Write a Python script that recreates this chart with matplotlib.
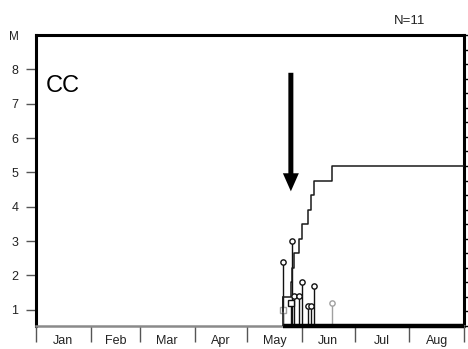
import numpy as np
import matplotlib
matplotlib.use("Agg")
import matplotlib.pyplot as plt
from matplotlib.patches import FancyArrowPatch

plt.rcParams['font.family'] = ['Liberation Sans', 'DejaVu Sans']

# ---- data ----
months = ["Jan", "Feb", "Mar", "Apr", "May", "Jun", "Jul", "Aug"]
month_starts = [0, 31, 59, 90, 120, 151, 181, 212, 243]
event_days = [140.0, 140.0, 144.7, 145.6, 146.7, 149.1, 151.0, 154.6, 156.3, 158.0, 167.9]
event_values = [2.39, 1.0, 1.2, 2.99, 1.41, 1.41, 1.81, 1.1, 1.1, 1.68, 1.21]
event_marker = ['o', 's', 's', 'o', 'o', 'o', 'o', 'o', 'o', 'o', 'o']
event_gray = [False, True, False, False, False, False, False, False, False, False, True]
arrow_day = 144.7
arrow_from, arrow_to = 7.9, 4.45
yticks_left = [1, 2, 3, 4, 5, 6, 7, 8]
n_label = "N=11"
panel_label = "CC"

fig = plt.figure(figsize=(4.68, 3.49), dpi=100)
ax = fig.add_axes([36/468, 23/349, 428/468, 291/349])
ymin, ymax = 0.53, 9.0
xmax = month_starts[-1]
ax.set_xlim(0, xmax)
ax.set_ylim(ymin, ymax)

# spines
for s in ['left', 'top', 'right']:
    ax.spines[s].set_linewidth(2.2)
    ax.spines[s].set_color('black')
ax.spines['bottom'].set_linewidth(1.8)
ax.spines['bottom'].set_color('#8a8a8a')

# left ticks
ax.set_yticks(yticks_left)
ax.set_yticklabels([str(v) for v in yticks_left])
ax.tick_params(axis='y', direction='out', length=7.2, width=1, color='#555555',
               pad=5.5, labelsize=9, labelcolor='#222222')
fig.text(14/468, 1 - 37/349, "M", ha='center', va='center', fontsize=8.5, color='#222222')

# x ticks: month boundaries, labels at mid-month
ax.set_xticks(month_starts)
ax.set_xticklabels([])
ax.tick_params(axis='x', which='major', direction='out', length=11.5, width=1, color='#555555')
mids = [(month_starts[i] + month_starts[i+1]) / 2 for i in range(len(months))]
ax.set_xticks(mids, minor=True)
ax.set_xticklabels(months, minor=True)
ax.tick_params(axis='x', which='minor', length=0, pad=6.5, labelsize=9, labelcolor='#222222')

# right axis: cumulative count
ax2 = ax.twinx()
ax2.set_ylim(0, 20)
ax2.set_yticks(range(0, 21))
ax2.set_yticklabels([])
ax2.tick_params(axis='y', direction='out', length=3, width=1, color='black')
for s in ['left', 'top', 'right', 'bottom']:
    ax2.spines[s].set_visible(False)
sd = np.sort(np.array(event_days))
step_x = np.concatenate([[0], sd, [xmax]])
step_y = np.concatenate([[0], np.arange(1, len(sd) + 1), [len(sd)]])
ax2.step(step_x[1:], step_y[1:], where='post', color='#1a1a1a', lw=1.1, zorder=3)
ax2.plot([sd[0], sd[0]], [0, 2], color='#1a1a1a', lw=1.1)

# black season bar on bottom
ax.plot([sd[0], xmax], [ymin, ymin], color='black', lw=3.2, clip_on=False,
        solid_capstyle='butt', zorder=5)

# lollipops
for d, v, m, g in zip(event_days, event_values, event_marker, event_gray):
    c = '#a0a0a0' if g else '#111111'
    ax.plot([d, d], [ymin, v], color=c, lw=1.0, zorder=4)
    ax.plot([d], [v], marker=m, ms=3.8, mfc='white', mec=c, mew=1.0, zorder=6)

# arrow
arr = FancyArrowPatch((arrow_day, arrow_from), (arrow_day, arrow_to),
                      arrowstyle="simple,head_length=13,head_width=11.5,tail_width=3.6",
                      mutation_scale=1, color='black', lw=0, shrinkA=0, shrinkB=0, zorder=7)
ax.add_patch(arr)

# texts
ax.text(45.7/468, 1 - 91.5/349, panel_label, transform=fig.transFigure,
        fontsize=17, ha='left', va='baseline', color='black')
fig.text(425/468, 1 - 21/349, n_label, ha='right', va='center', fontsize=9.5, color='#222222')

fig.savefig("out.png", dpi=100)
